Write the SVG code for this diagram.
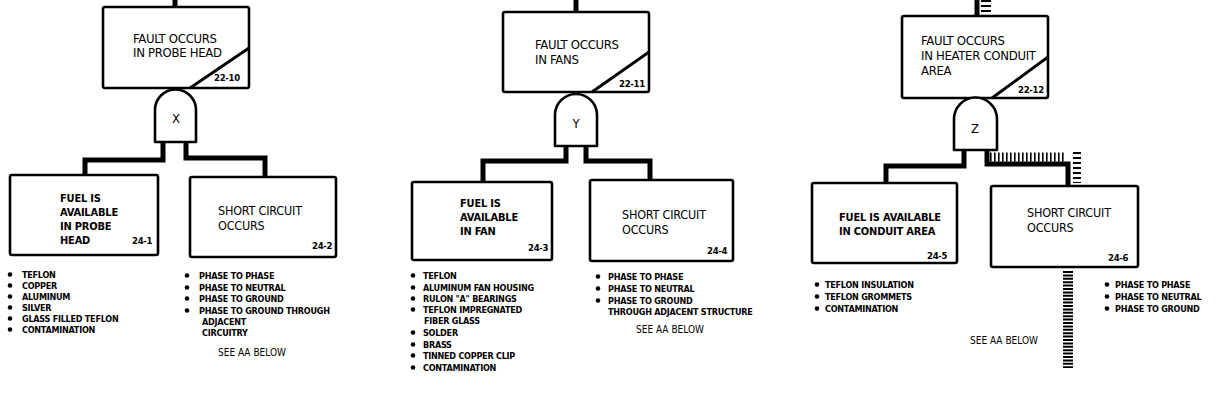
<svg xmlns="http://www.w3.org/2000/svg" width="1216" height="406" viewBox="0 0 1216 406">
<style>
.box{fill:#fff;stroke:#000;stroke-width:2.6;stroke-linejoin:round}
.gate{fill:#fff;stroke:#000;stroke-width:2.6;stroke-linejoin:round}
.diag{stroke:#000;stroke-width:2.8}
.wire{fill:none;stroke:#000;stroke-width:5}
.hatch{fill:none;stroke:#000}
text{font-family:"Liberation Sans Narrow","DejaVu Sans Condensed","Liberation Sans",sans-serif;font-stretch:condensed;fill:#000}
.tb{font-size:13px;letter-spacing:-0.3px}
.sc{font-size:12.5px;letter-spacing:-0.2px}
.fu{font-size:11px;font-weight:bold;letter-spacing:-0.2px}
.num{font-size:9.5px;font-weight:bold;letter-spacing:-0.3px}
.bl{font-size:9px;font-weight:bold;letter-spacing:-0.25px}
.see{font-size:10px}
.g{font-size:13px;text-anchor:middle}
.dot{fill:#000}
</style>
<g id="connectors">
<path class="wire" d="M175,0 V8" stroke-width="7"/>
<path class="wire" d="M163,142 V160 H85 V175"/>
<path class="wire" d="M186,142 V158 H265 V177"/>
<path class="wire" d="M576,0 V12" stroke-width="7"/>
<path class="wire" d="M566,146 V161 H483 V182"/>
<path class="wire" d="M586,146 V161 H650 V180"/>
<path class="wire" d="M977,0 V16" stroke-width="8"/>
<path class="wire" d="M964,150 V166 H886 V183"/>
<path class="wire" d="M987,150 V164 H1068 V186"/>
<line class="hatch" x1="986" y1="0" x2="986" y2="15" stroke-width="10" stroke-dasharray="2 3"/>
<line class="hatch" x1="990" y1="157" x2="1064" y2="157" stroke-width="9" stroke-dasharray="1.6 2.4"/>
<line class="hatch" x1="1077" y1="152" x2="1077" y2="183" stroke-width="8" stroke-dasharray="2 3"/>
<line class="hatch" x1="1068" y1="271" x2="1068" y2="368" stroke-width="10" stroke-dasharray="2 1.4"/>
</g>
<g id="top1">
<rect class="box" x="103" y="7" width="146" height="81" rx="2"/>
<line class="diag" x1="190" y1="88" x2="249" y2="48"/>
<text class="tb" x="133" y="43">FAULT OCCURS</text>
<text class="tb" x="133" y="57">IN PROBE HEAD</text>
<text class="num" x="214" y="81">22-10</text>
</g>
<g id="gateX">
<path class="gate" d="M155,142 V110 A20.5,20.5 0 0 1 196,110 V142 Z"/>
<text class="g" x="176" y="123">X</text>
</g>
<g id="fuel1">
<rect class="box" x="10" y="175" width="148" height="80" rx="2"/>
<text class="fu" x="60" y="202">FUEL IS</text>
<text class="fu" x="60" y="216">AVAILABLE</text>
<text class="fu" x="60" y="230">IN PROBE</text>
<text class="fu" x="60" y="244">HEAD</text>
<text class="num" x="132" y="244">24-1</text>
</g>
<g id="short1">
<rect class="box" x="190" y="177" width="146" height="80" rx="2"/>
<text class="sc" x="218" y="215">SHORT CIRCUIT</text>
<text class="sc" x="218" y="230">OCCURS</text>
<text class="num" x="312" y="249">24-2</text>
</g>
<g id="list1a">
<circle class="dot" cx="10" cy="274.5" r="2.3"/><text class="bl" x="22" y="278">TEFLON</text>
<circle class="dot" cx="10" cy="285.5" r="2.3"/><text class="bl" x="22" y="289">COPPER</text>
<circle class="dot" cx="10" cy="296.5" r="2.3"/><text class="bl" x="22" y="300">ALUMINUM</text>
<circle class="dot" cx="10" cy="307.5" r="2.3"/><text class="bl" x="22" y="311">SILVER</text>
<circle class="dot" cx="10" cy="318.5" r="2.3"/><text class="bl" x="22" y="322">GLASS FILLED TEFLON</text>
<circle class="dot" cx="10" cy="329.5" r="2.3"/><text class="bl" x="22" y="333">CONTAMINATION</text>
</g>
<g id="list1b">
<circle class="dot" cx="187" cy="275.5" r="2.3"/><text class="bl" x="199" y="279">PHASE TO PHASE</text>
<circle class="dot" cx="187" cy="287.5" r="2.3"/><text class="bl" x="199" y="291">PHASE TO NEUTRAL</text>
<circle class="dot" cx="187" cy="298.5" r="2.3"/><text class="bl" x="199" y="302">PHASE TO GROUND</text>
<circle class="dot" cx="187" cy="310.5" r="2.3"/><text class="bl" x="199" y="314">PHASE TO GROUND THROUGH</text>
<text class="bl" x="202" y="325">ADJACENT</text>
<text class="bl" x="202" y="336">CIRCUITRY</text>
<text class="see" x="218" y="356">SEE AA BELOW</text>
</g>
<g id="top2">
<rect class="box" x="503" y="12" width="146" height="80" rx="2"/>
<line class="diag" x1="592" y1="92" x2="649" y2="52"/>
<text class="tb" x="535" y="49">FAULT OCCURS</text>
<text class="tb" x="535" y="64">IN FANS</text>
<text class="num" x="619" y="87">22-11</text>
</g>
<g id="gateY">
<path class="gate" d="M555,146 V115 A21,21 0 0 1 597,115 V146 Z"/>
<text class="g" x="576" y="128">Y</text>
</g>
<g id="fuel2">
<rect class="box" x="412" y="182" width="140" height="78" rx="2"/>
<text class="fu" x="460" y="207">FUEL IS</text>
<text class="fu" x="460" y="221">AVAILABLE</text>
<text class="fu" x="460" y="235">IN FAN</text>
<text class="num" x="528" y="251">24-3</text>
</g>
<g id="short2">
<rect class="box" x="590" y="180" width="143" height="81" rx="2"/>
<text class="sc" x="622" y="219">SHORT CIRCUIT</text>
<text class="sc" x="622" y="234">OCCURS</text>
<text class="num" x="707" y="254">24-4</text>
</g>
<g id="list2a">
<circle class="dot" cx="413" cy="275.5" r="2.3"/><text class="bl" x="423" y="279">TEFLON</text>
<circle class="dot" cx="413" cy="287.5" r="2.3"/><text class="bl" x="423" y="291">ALUMINUM FAN HOUSING</text>
<circle class="dot" cx="413" cy="298.5" r="2.3"/><text class="bl" x="423" y="302">RULON "A" BEARINGS</text>
<circle class="dot" cx="413" cy="309.5" r="2.3"/><text class="bl" x="423" y="313">TEFLON IMPREGNATED</text>
<text class="bl" x="424" y="324">FIBER GLASS</text>
<circle class="dot" cx="413" cy="332.5" r="2.3"/><text class="bl" x="423" y="336">SOLDER</text>
<circle class="dot" cx="413" cy="344.5" r="2.3"/><text class="bl" x="423" y="348">BRASS</text>
<circle class="dot" cx="413" cy="355.5" r="2.3"/><text class="bl" x="423" y="359">TINNED COPPER CLIP</text>
<circle class="dot" cx="413" cy="367.5" r="2.3"/><text class="bl" x="423" y="371">CONTAMINATION</text>
</g>
<g id="list2b">
<circle class="dot" cx="598" cy="276.5" r="2.3"/><text class="bl" x="608" y="280">PHASE TO PHASE</text>
<circle class="dot" cx="598" cy="288.5" r="2.3"/><text class="bl" x="608" y="292">PHASE TO NEUTRAL</text>
<circle class="dot" cx="598" cy="300.5" r="2.3"/><text class="bl" x="608" y="304">PHASE TO GROUND</text>
<text class="bl" x="608" y="315">THROUGH ADJACENT STRUCTURE</text>
<text class="see" x="636" y="333">SEE AA BELOW</text>
</g>
<g id="top3">
<rect class="box" x="902" y="16" width="146" height="82" rx="2"/>
<line class="diag" x1="992" y1="98" x2="1048" y2="57"/>
<text class="tb" x="921" y="45">FAULT OCCURS</text>
<text class="tb" x="921" y="60">IN HEATER CONDUIT</text>
<text class="tb" x="921" y="75">AREA</text>
<text class="num" x="1018" y="93">22-12</text>
</g>
<g id="gateZ">
<path class="gate" d="M954,150 V119 A21.5,21.5 0 0 1 997,119 V150 Z"/>
<text class="g" x="975" y="133">Z</text>
</g>
<g id="fuel3">
<rect class="box" x="812" y="183" width="145" height="80" rx="2"/>
<text class="fu" x="839" y="221">FUEL IS AVAILABLE</text>
<text class="fu" x="839" y="235">IN CONDUIT AREA</text>
<text class="num" x="927" y="259">24-5</text>
</g>
<g id="short3">
<rect class="box" x="991" y="186" width="147" height="81" rx="2"/>
<text class="sc" x="1027" y="217">SHORT CIRCUIT</text>
<text class="sc" x="1027" y="232">OCCURS</text>
<text class="num" x="1108" y="261">24-6</text>
</g>
<g id="list3a">
<circle class="dot" cx="817" cy="284.5" r="2.3"/><text class="bl" x="825" y="288">TEFLON INSULATION</text>
<circle class="dot" cx="817" cy="296.5" r="2.3"/><text class="bl" x="825" y="300">TEFLON GROMMETS</text>
<circle class="dot" cx="817" cy="308.5" r="2.3"/><text class="bl" x="825" y="312">CONTAMINATION</text>
</g>
<g id="list3b">
<circle class="dot" cx="1107" cy="284.5" r="2.3"/><text class="bl" x="1115" y="288">PHASE TO PHASE</text>
<circle class="dot" cx="1107" cy="296.5" r="2.3"/><text class="bl" x="1115" y="300">PHASE TO NEUTRAL</text>
<circle class="dot" cx="1107" cy="308.5" r="2.3"/><text class="bl" x="1115" y="312">PHASE TO GROUND</text>
</g>
<text class="see" x="970" y="344">SEE AA BELOW</text>
</svg>
